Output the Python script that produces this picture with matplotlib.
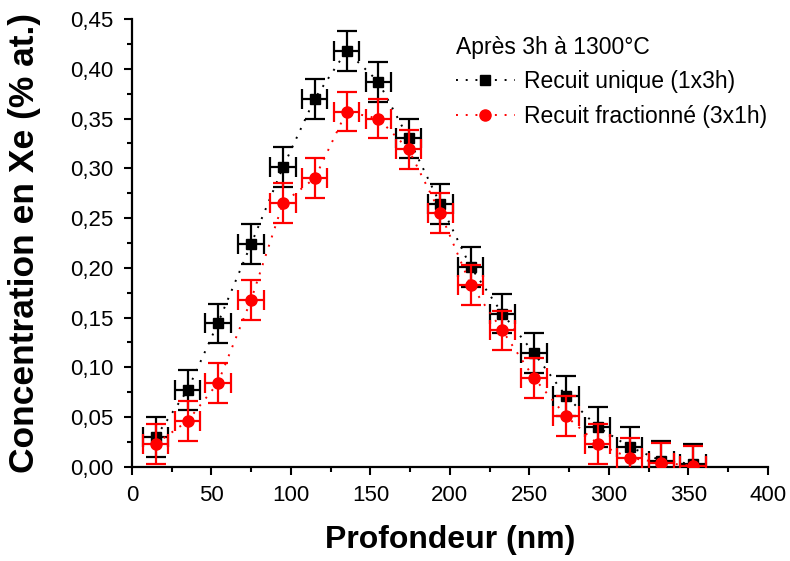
import numpy as np
import matplotlib
matplotlib.use("Agg")
import matplotlib.pyplot as plt
from matplotlib.ticker import MultipleLocator, FuncFormatter
from matplotlib.lines import Line2D

plt.rcParams['font.family'] = ['Liberation Sans', 'DejaVu Sans']

# Recuit unique (1x3h)
depth_u = [15, 35, 54, 75, 95, 115, 135, 155, 174, 194, 213, 233, 253, 273, 293, 313, 333, 353]
conc_u = [0.030, 0.077, 0.144, 0.224, 0.301, 0.370, 0.418, 0.387, 0.330, 0.264, 0.201, 0.154, 0.114, 0.071, 0.040, 0.020, 0.006, 0.003]

# Recuit fractionne (3x1h)
depth_f = [15, 35, 54, 75, 95, 115, 135, 155, 174, 194, 213, 233, 253, 273, 293, 313, 333, 353]
conc_f = [0.023, 0.046, 0.084, 0.168, 0.265, 0.290, 0.357, 0.350, 0.319, 0.255, 0.183, 0.137, 0.089, 0.051, 0.023, 0.009, 0.004, 0.001]

x_err = 8
y_err = 0.02

fig = plt.figure(figsize=(7.9, 5.61), dpi=100)
ax = fig.add_axes([0.167, 0.168, 0.805, 0.798])

dots = (0, (1, 4))
ax.errorbar(depth_u, conc_u, xerr=x_err, yerr=y_err, color='black', ecolor='black',
            linestyle=dots, linewidth=1.4, marker='s', markersize=7.5,
            elinewidth=1.6, capsize=7.5, capthick=1.6, zorder=3)
ax.errorbar(depth_f, conc_f, xerr=x_err, yerr=y_err, color='#ff0000', ecolor='#ff0000',
            linestyle=dots, linewidth=1.4, marker='o', markersize=8,
            elinewidth=1.6, capsize=7.5, capthick=1.6, zorder=4)

ax.set_xlim(0, 400)
ax.set_ylim(0, 0.45)
ax.xaxis.set_major_locator(MultipleLocator(50))
ax.xaxis.set_minor_locator(MultipleLocator(25))
ax.yaxis.set_major_locator(MultipleLocator(0.05))
ax.yaxis.set_minor_locator(MultipleLocator(0.025))
ax.yaxis.set_major_formatter(FuncFormatter(lambda v, p: f"{v:.2f}".replace('.', ',')))

for s in ['top', 'right']:
    ax.spines[s].set_visible(False)
for s in ['left', 'bottom']:
    ax.spines[s].set_linewidth(1.6)
ax.tick_params(which='major', direction='out', length=6, width=1.5, labelsize=16, pad=7)
ax.tick_params(which='minor', direction='out', length=3.5, width=1.5)

ax.set_xlabel('Profondeur (nm)', fontsize=23, fontweight='bold', labelpad=14)
ax.set_ylabel('Concentration en Xe (% at.)', fontsize=25.5, fontweight='bold')
ax.yaxis.set_label_coords(-0.143, 0.5)

handles = [
    Line2D([], [], color='black', linestyle=dots, linewidth=1.4, marker='s', markersize=7.5),
    Line2D([], [], color='#ff0000', linestyle=dots, linewidth=1.4, marker='o', markersize=8),
]
labels = ['Recuit unique (1x3h)', 'Recuit fractionné (3x1h)']
leg = ax.legend(handles, labels, title='Après 3h à 1300°C', loc='upper left',
                bbox_to_anchor=(0.48, 1.004), frameon=False, fontsize=16.5,
                title_fontsize=16.5, handlelength=2.6, handletextpad=0.4,
                labelspacing=0.5, borderpad=0.3)
leg._legend_box.align = 'left'

fig.savefig('out.png', dpi=100)
